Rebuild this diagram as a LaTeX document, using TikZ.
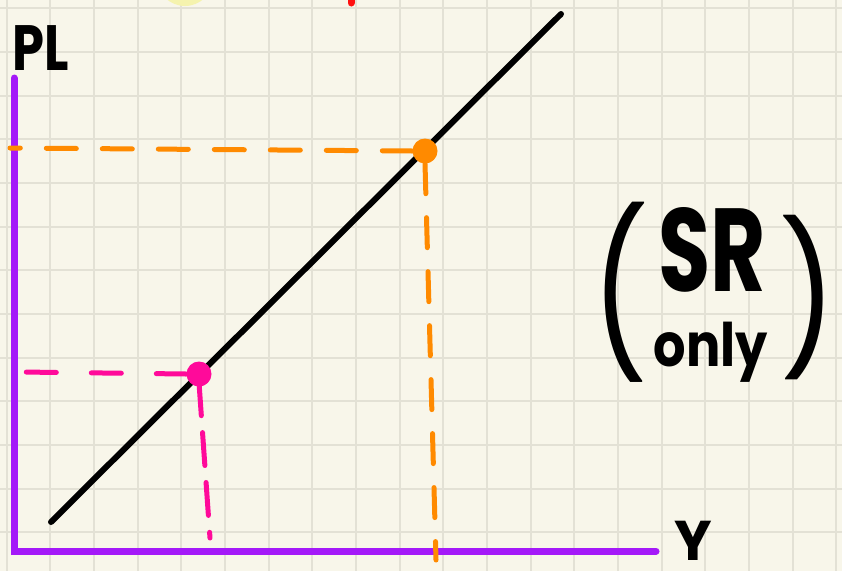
\documentclass[tikz,border=0pt]{standalone}
\usepackage{fontspec}
\setmainfont{Poppins}
\usetikzlibrary{positioning}
\definecolor{paper}{HTML}{F8F6EA}
\definecolor{gridline}{HTML}{E3E1D5}
\definecolor{axispurple}{HTML}{A419F8}
\definecolor{dotorange}{HTML}{FF8A00}
\definecolor{dotpink}{HTML}{FF0A9A}
\definecolor{sunyellow}{HTML}{F5F3AE}
\definecolor{penred}{HTML}{FF1010}
\tikzset{
  axisline/.style={draw=axispurple, line width=7pt, line cap=round},
  supply/.style={draw=black, line width=6pt, line cap=round},
  guide/.style={line width=5pt, line cap=round},
  dot/.style={circle, inner sep=0pt, minimum size=25pt},
  hand/.style={inner sep=0pt, text=black, font=\bfseries\fontsize{#1}{#1}\selectfont},
  hand/.default=56,
  paren/.style={inner sep=0pt, text=black, font=\mdseries\fontsize{140}{140}\selectfont}
}

\begin{document}
\begin{tikzpicture}[x=1pt, y=-1pt]
  % paper and grid
  \fill[paper] (0,0) rectangle (842,571);
  \useasboundingbox (0,0) rectangle (842,571);
  \foreach \i in {0,...,19}
    \draw[gridline, line width=2pt] ({6.7+43.67*\i},0) -- ({6.7+43.67*\i},571);
  \foreach \j in {0,...,13}
    \draw[gridline, line width=2pt] (0,{8.3+43.67*\j}) -- (842,{8.3+43.67*\j});

  % bits cut off at the top edge
  \fill[sunyellow] (185,-22) circle (28);
  \draw[penred, line width=7pt, line cap=round] (351,-8) -- (351,3);

  % axes
  \coordinate (origin) at (14,551);
  \coordinate (ytop) at (14,78);
  \coordinate (xend) at (656,551);
  \draw[axisline] (ytop) -- (origin) -- (xend);
  \node[hand=64, xscale=0.8] (pl) at (41,48) {PL};
  \node[hand=56] (ylab) at (693,541) {Y};

  % SR curve
  \coordinate (srlow) at (51,522);
  \coordinate (srhigh) at (561,14);
  \draw[supply] (srlow) -- (srhigh);

  % points on the curve
  \node[dot, fill=dotorange] (hi) at (425,151) {};
  \node[dot, fill=dotpink] (lo) at (199,374) {};

  % guides to the axes
  \coordinate (hiy) at (10,148);
  \coordinate (hix) at (436,560);
  \coordinate (loy) at (20,372);
  \coordinate (lox) at (210,538);
  \draw[guide, dotorange, dash pattern=on 30pt off 26pt] (hi.west) -- (hiy);
  \draw[guide, dotorange, dash pattern=on 30pt off 24pt] (hi.south) -- (hix);
  \draw[guide, dotpink, dash pattern=on 30pt off 35pt] (lo.west) -- (loy);
  \draw[guide, dotpink, dash pattern=on 33pt off 17pt] ([yshift=4pt]lo.south) -- (lox);

  % note
  \node[hand=118, xscale=0.72] (sr) at (712,250) {SR};
  \node[hand=60, xscale=0.85] (only) at (711,352) {only};
  \node[paren, yscale=1.15, xscale=0.9] (lpar) at (620,292) {(};
  \node[paren, yscale=1.05, xscale=0.9] (rpar) at (808,298) {)};
\end{tikzpicture}
\end{document}
